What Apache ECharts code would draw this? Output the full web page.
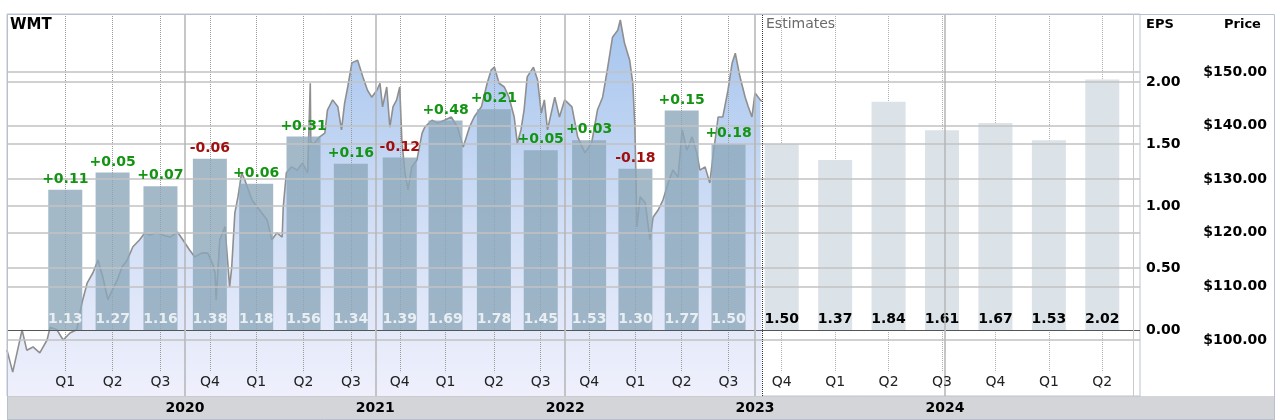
<!DOCTYPE html>
<html><head><meta charset="utf-8">
<script src="https://cdn.jsdelivr.net/npm/echarts@6/dist/echarts.min.js"></script>
<style>html,body{margin:0;padding:0;background:#fff}#c{width:1280px;height:420px}</style>
</head><body><div id="c"></div>
<script>
// ---------------- data ----------------
const ticker = 'WMT';
const quarterDates = ['2019-05-16','2019-08-15','2019-11-15','2020-02-18','2020-05-17','2020-08-16','2020-11-15','2021-02-17','2021-05-16','2021-08-17','2021-11-15','2022-02-16','2022-05-16','2022-08-13','2022-11-11'];
const quarterLabels = ['Q1','Q2','Q3','Q4','Q1','Q2','Q3','Q4','Q1','Q2','Q3','Q4','Q1','Q2','Q3'];
const epsActual = [1.13,1.27,1.16,1.38,1.18,1.56,1.34,1.39,1.69,1.78,1.45,1.53,1.30,1.77,1.50];
const epsSurprise = [0.11,0.05,0.07,-0.06,0.06,0.31,0.16,-0.12,0.48,0.21,0.05,0.03,-0.18,0.15,0.18];
const estimateCategories = ['Q4 2023','Q1 2024','Q2 2024','Q3 2024','Q4 2024','Q1 2025','Q2 2025'];
const epsEstimate = [1.50,1.37,1.84,1.61,1.67,1.53,2.02];
const yearStarts = ['2020-01-01','2021-01-01','2022-01-01','2023-01-01','2024-01-01'];
const yearLabels = ['2020','2021','2022','2023','2024'];
const estimatesStart = '2023-01-14';
const epsTicks = [0, 0.5, 1, 1.5, 2];
const priceTicks = [100, 110, 120, 130, 140, 150];
const priceDates = ['2019-01-24','2019-02-04','2019-02-22','2019-03-03','2019-03-15','2019-03-28','2019-04-11','2019-04-17','2019-04-30','2019-05-12','2019-05-25','2019-06-07','2019-06-17','2019-06-27','2019-07-08','2019-07-18','2019-07-27','2019-08-06','2019-08-12','2019-08-24','2019-09-02','2019-09-12','2019-09-23','2019-10-06','2019-10-16','2019-10-25','2019-11-08','2019-11-19','2019-12-03','2019-12-18','2019-12-28',
'2020-01-10','2020-01-20','2020-02-02','2020-02-14','2020-02-24','2020-02-28','2020-03-01','2020-03-08','2020-03-18','2020-03-27','2020-03-31','2020-04-06','2020-04-12','2020-04-19','2020-04-25','2020-05-09','2020-05-19','2020-05-28','2020-06-07','2020-06-16','2020-06-26','2020-07-06','2020-07-08','2020-07-14','2020-07-24','2020-08-04','2020-08-14','2020-08-24','2020-08-29','2020-08-30','2020-09-04','2020-09-16','2020-09-26','2020-10-01','2020-10-11','2020-10-21','2020-10-28','2020-11-03','2020-11-09','2020-11-17','2020-11-28','2020-12-08','2020-12-17','2020-12-25',
'2021-01-04','2021-01-10','2021-01-15','2021-01-23','2021-01-29','2021-02-04','2021-02-11','2021-02-17','2021-02-21','2021-02-27','2021-03-05','2021-03-12','2021-03-22','2021-04-01','2021-04-06','2021-04-20','2021-05-01','2021-05-14','2021-05-27','2021-06-08','2021-06-19','2021-07-01','2021-07-10','2021-07-24','2021-08-04','2021-08-12','2021-08-18','2021-08-27','2021-09-06','2021-09-15','2021-09-25','2021-10-01','2021-10-08','2021-10-14','2021-10-20','2021-11-01','2021-11-09','2021-11-16','2021-11-22','2021-11-28','2021-12-12','2021-12-21','2021-12-31',
'2022-01-14','2022-01-25','2022-02-08','2022-02-21','2022-03-04','2022-03-14','2022-03-23','2022-04-02','2022-04-12','2022-04-17','2022-04-25','2022-05-05','2022-05-11','2022-05-15','2022-05-19','2022-05-25','2022-06-04','2022-06-13','2022-06-19','2022-06-29','2022-07-08','2022-07-18','2022-07-27','2022-08-06','2022-08-14','2022-08-23','2022-09-02','2022-09-11','2022-09-17','2022-09-27','2022-10-06','2022-10-12','2022-10-22','2022-10-31','2022-11-10','2022-11-18','2022-11-24','2022-12-03','2022-12-13','2022-12-19','2022-12-26','2023-01-01','2023-01-11','2023-01-14'];
const priceValues = [98.1,94.0,101.9,98.1,98.7,97.6,100.0,102.4,101.9,100.0,101.3,101.9,106.9,110.6,112.5,114.9,111.8,107.5,108.8,111.2,113.6,114.9,117.4,118.7,120.0,119.6,120.0,119.6,119.2,120.1,118.7,
116.8,115.5,116.2,116.2,114.0,112.5,107.5,118.7,121.1,109.9,113.6,123.7,126.7,131.2,129.9,126.1,124.8,123.7,122.4,118.7,120.0,119.2,124.8,131.2,132.3,131.7,133.0,131.2,147.9,137.0,136.5,137.9,138.6,142.9,144.8,143.5,139.2,144.2,147.2,151.7,152.2,149.1,146.6,145.3,
146.6,147.9,143.5,147.2,139.7,143.5,144.8,147.2,137.3,131.2,128.0,132.3,133.6,138.6,139.7,141.0,140.5,141.0,141.6,139.7,136.0,139.7,141.6,143.5,147.9,150.4,150.9,147.9,147.2,145.3,141.6,136.7,139.2,142.9,149.1,150.9,148.5,142.3,144.8,139.2,145.3,141.6,144.8,
143.5,137.9,134.9,136.8,142.9,145.3,150.4,156.5,157.8,159.7,155.4,152.2,147.9,139.7,121.1,126.7,125.6,118.7,122.9,124.3,126.1,129.3,131.7,130.4,139.2,135.4,137.9,134.9,131.7,132.3,129.3,134.1,141.6,141.6,146.6,151.7,153.5,149.1,145.3,143.5,141.6,146.1,144.8,144.5];

// ---------------- helpers ----------------
function ts(s){ const p = s.split('-').map(Number); return Date.UTC(p[0], p[1]-1, p[2]); }
function nearestIdx(arr, v){ let b=0, bd=Infinity; arr.forEach((a,i)=>{const d=Math.abs(a-v); if(d<bd){bd=d;b=i;}}); return b; }
const FONT = 'DejaVu Sans';
const timeMin = ts('2019-01-24'), timeMax = ts('2025-01-10');
const epsMin = -0.532, epsMax = 2.548;
const priceMin = 89.55, priceMax = 160.82;
const dotBottomPrice = 94.0;   // where quarter dotted guides stop (above Q labels)
const dotBottomEps = -0.34;
const qTs = quarterDates.map(ts);
const yTs = yearStarts.map(ts);

const chart = echarts.init(document.getElementById('c'), null, {renderer:'canvas'});
const option = {
  animation: false,
  textStyle: {fontFamily: FONT},
  grid: [
    {left: 7, top: 14, right: 140, bottom: 24, show: true, borderColor: '#bcc4d0', borderWidth: 1, backgroundColor: 'rgba(0,0,0,0)', outerBoundsMode: 'none', containLabel: false},
    {left: 755, top: 14, right: 151, bottom: 24, show: false, outerBoundsMode: 'none', containLabel: false}
  ],
  xAxis: [
    {type: 'value', gridIndex: 0, min: timeMin, max: timeMax, position: 'bottom', z: 10,
     axisLine: {show: false}, splitLine: {show: false},
     axisTick: {show: true, customValues: yTs, length: 24, lineStyle: {color: '#c0c2c6', width: 1}},
     axisLabel: {customValues: yTs, formatter: v => yearLabels[nearestIdx(yTs, v)], margin: 5,
                 fontFamily: FONT, fontWeight: 'bold', fontSize: 14, color: '#000'}},
    {type: 'category', gridIndex: 1, data: estimateCategories, position: 'bottom', offset: -21, z: 10,
     axisLine: {show: false}, axisTick: {show: false}, splitLine: {show: false},
     axisLabel: {formatter: v => v.split(' ')[0], margin: 0, fontFamily: FONT, fontSize: 14, color: '#222'}},
    {type: 'value', gridIndex: 0, min: timeMin, max: timeMax, position: 'bottom', offset: -21, z: 10,
     axisLine: {show: false}, axisTick: {show: false}, splitLine: {show: false},
     axisLabel: {customValues: qTs, formatter: v => quarterLabels[nearestIdx(qTs, v)], margin: 0,
                 fontFamily: FONT, fontSize: 14, color: '#222'}}
  ],
  yAxis: [
    {type: 'value', gridIndex: 0, position: 'right', min: epsMin, max: epsMax,
     axisLine: {show: false}, axisTick: {show: false}, splitLine: {show: false},
     axisLabel: {customValues: epsTicks, formatter: v => v.toFixed(2), margin: 6, align: 'left',
                 fontFamily: FONT, fontWeight: 'bold', fontSize: 14, color: '#000'}},
    {type: 'value', gridIndex: 0, position: 'right', min: priceMin, max: priceMax,
     axisLine: {show: false}, axisTick: {show: false}, splitLine: {show: false},
     axisLabel: {customValues: priceTicks, formatter: v => '$' + v.toFixed(2), margin: 127, align: 'right',
                 fontFamily: FONT, fontWeight: 'bold', fontSize: 14, color: '#000'}},
    {type: 'value', gridIndex: 1, min: epsMin, max: epsMax, show: false}
  ],
  series: [
    { // price line + area
      type: 'line', xAxisIndex: 0, yAxisIndex: 1, z: 1, silent: true,
      data: priceDates.map((d, i) => [ts(d), priceValues[i]]),
      showSymbol: false, symbol: 'none',
      lineStyle: {color: '#8f8f8f', width: 1.6},
      areaStyle: {origin: 'start', opacity: 1, color: new echarts.graphic.LinearGradient(0, 0, 0, 1, [
        {offset: 0, color: '#a6c5ee'}, {offset: 0.55, color: '#d2dff6'}, {offset: 1, color: '#eff0fc'}])},
      markLine: {z: 2, silent: true, symbol: ['none', 'none'], label: {show: false},
        lineStyle: {type: 'dotted', color: '#9a9a9a', width: 1},
        data: qTs.map(t => [{coord: [t, priceMax]}, {coord: [t, dotBottomPrice]}])}
    },
    { // actual EPS bars
      type: 'bar', xAxisIndex: 0, yAxisIndex: 0, z: 3, barWidth: 34, silent: true,
      data: qTs.map((t, i) => [t, epsActual[i]]),
      itemStyle: {color: 'rgba(140,168,186,0.8)'},
      label: {show: true, position: 'insideBottom', distance: 4, formatter: p => p.value[1].toFixed(2),
              fontFamily: FONT, fontWeight: 'bold', fontSize: 14, color: '#e9eef2'}
    },
    { // surprise labels above bars
      type: 'scatter', xAxisIndex: 0, yAxisIndex: 0, z: 6, silent: true,
      symbolSize: 1, itemStyle: {color: '#000', opacity: 0},
      data: qTs.map((t, i) => ({value: [t, epsActual[i]],
        label: {color: epsSurprise[i] >= 0 ? '#139413' : '#a00f0f'}})),
      label: {show: true, position: 'top', distance: 3, opacity: 1,
              formatter: p => (epsSurprise[p.dataIndex] >= 0 ? '+' : '') + epsSurprise[p.dataIndex].toFixed(2),
              fontFamily: FONT, fontWeight: 'bold', fontSize: 14}
    },
    { // estimate bars
      type: 'bar', xAxisIndex: 1, yAxisIndex: 2, z: 3, barWidth: 34, silent: true,
      data: epsEstimate,
      itemStyle: {color: '#dbe2e8'},
      label: {show: true, position: 'insideBottom', distance: 4, formatter: p => p.value.toFixed(2),
              fontFamily: FONT, fontWeight: 'bold', fontSize: 14, color: '#000'},
      markLine: {z: 2, silent: true, symbol: ['none', 'none'], label: {show: false},
        lineStyle: {type: 'dotted', color: '#b0b0b0', width: 1},
        data: estimateCategories.map(c => [{coord: [c, epsMax]}, {coord: [c, dotBottomEps]}])}
    },
    { // EPS gridlines
      type: 'line', xAxisIndex: 0, yAxisIndex: 0, data: [], silent: true,
      markLine: {z: 4, silent: true, symbol: ['none', 'none'], label: {show: false},
        lineStyle: {type: 'solid', color: '#c2c2c2', width: 1.5},
        data: epsTicks.map(v => v === 0 ? {yAxis: v, lineStyle: {color: '#555', width: 1.2, type: 'solid'}} : {yAxis: v})}
    },
    { // price gridlines, year dividers, estimates divider
      type: 'line', xAxisIndex: 0, yAxisIndex: 1, data: [], silent: true,
      markLine: {z: 4, silent: true, symbol: ['none', 'none'], label: {show: false},
        lineStyle: {type: 'solid', color: '#c2c2c2', width: 1.5},
        data: priceTicks.map(v => ({yAxis: v}))
          .concat(yTs.map(t => ({xAxis: t, lineStyle: {color: '#b5b5b5', width: 1.5, type: 'solid'}})))
          .concat([{xAxis: ts(estimatesStart), lineStyle: {color: '#333', width: 1, type: 'dotted'}}])}
    }
  ],
  graphic: [
    {type: 'rect', z: -10, silent: true, shape: {x: 7, y: 396, width: 1268, height: 24}, style: {fill: '#d3d5d9'}},
    {type: 'rect', z: 10, silent: true, shape: {x: 7.5, y: 14.5, width: 1267, height: 405}, style: {fill: null, stroke: '#b6c0d0', lineWidth: 1}},
    {type: 'line', z: 10, silent: true, shape: {x1: 1133.5, y1: 14, x2: 1133.5, y2: 396}, style: {stroke: '#cacaca', lineWidth: 1}},
    {type: 'text', z: 10, silent: true, left: 10, top: 18, style: {text: ticker, font: 'bold 15px "DejaVu Sans"', fill: '#000'}},
    {type: 'text', z: 10, silent: true, left: 766, top: 17, style: {text: 'Estimates', font: '14px "DejaVu Sans"', fill: '#6a6a6a'}},
    {type: 'text', z: 10, silent: true, left: 1146, top: 18, style: {text: 'EPS', font: 'bold 13px "DejaVu Sans"', fill: '#000'}},
    {type: 'text', z: 10, silent: true, left: 1224, top: 18, style: {text: 'Price', font: 'bold 13px "DejaVu Sans"', fill: '#000'}}
  ]
};
chart.setOption(option);
</script>
</body></html>
